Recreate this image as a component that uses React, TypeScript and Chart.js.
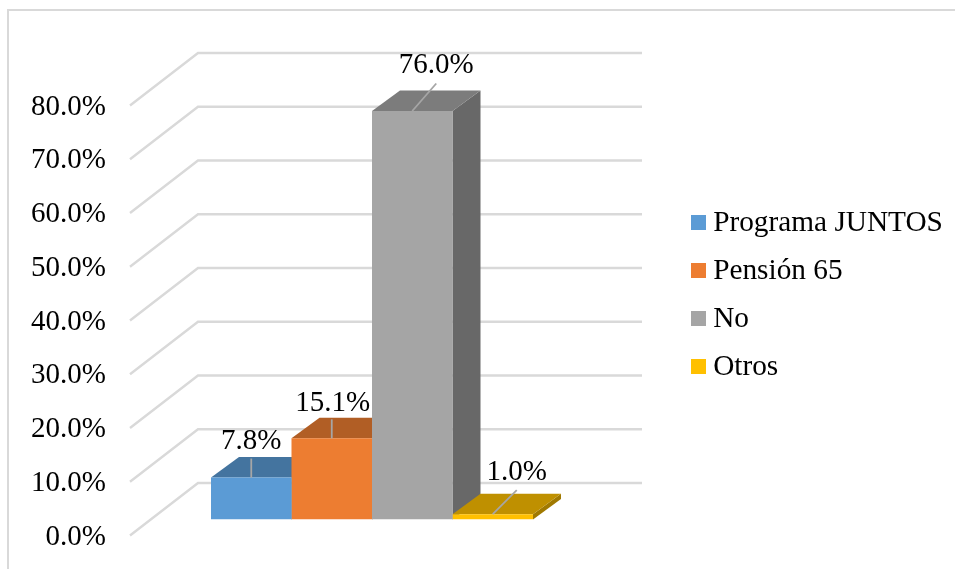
import React, { useEffect, useRef } from "react";
import { Chart, registerables } from "chart.js";

Chart.register(...registerables);

const categories = [""];
const seriesNames = ["Programa JUNTOS", "Pensión 65", "No", "Otros"];
const seriesValues = [7.8, 15.1, 76.0, 1.0];
const frontColors = ["#5b9bd5", "#ed7d31", "#a5a5a5", "#ffc000"];
const topColors = ["#44749f", "#b15e25", "#7c7c7c", "#bf9000"];
const sideColors = ["#396186", "#934e1f", "#686868", "#a07900"];
const labelOffsets = [[0, -36.5], [1, -35.3], [24, -45.8], [24, -42]];
const leaderEnds = [[0, -19], [0, -19], [24, -27.5], [24, -24]];

const FONT = "'Liberation Serif'";
const GRID = "#d9d9d9";
const FLOOR_X = 68;
const FLOOR_Y = -52.5;
const WALL_RIGHT = 642;
const BAR_SHIFT_X = 20;
const BAR_SHIFT_Y = -16;
const DEPTH_X = 28;
const DEPTH_Y = -20.5;

function swatch(color: string) {
  const c = document.createElement("canvas");
  c.width = 15;
  c.height = 15;
  const g = c.getContext("2d")!;
  g.fillStyle = color;
  g.fillRect(0, 0, 15, 15);
  return c;
}

function poly(ctx: CanvasRenderingContext2D, color: string, pts: number[][]) {
  ctx.fillStyle = color;
  ctx.beginPath();
  pts.forEach((p, i) => (i ? ctx.lineTo(p[0], p[1]) : ctx.moveTo(p[0], p[1])));
  ctx.closePath();
  ctx.fill();
}

const scene3d = {
  id: "scene3d",
  afterLayout(chart: any) {
    const l = chart.legend;
    l.left = 679.8;
    l.right = 955;
    l.top = 189.5;
    l.bottom = 569;
    l.width = l.right - l.left;
    l.height = l.bottom - l.top;
  },
  beforeDraw(chart: any) {
    const ctx = chart.ctx;
    ctx.save();
    ctx.strokeStyle = GRID;
    ctx.lineWidth = 2;
    ctx.beginPath();
    ctx.moveTo(8, 569);
    ctx.lineTo(8, 10);
    ctx.lineTo(955, 10);
    ctx.stroke();
    ctx.restore();
  },
  beforeDatasetsDraw(chart: any) {
    const ctx = chart.ctx;
    const yScale = chart.scales.y;
    ctx.save();
    ctx.strokeStyle = GRID;
    ctx.lineWidth = 2.4;
    yScale.ticks.forEach((t: any) => {
      const y = yScale.getPixelForValue(t.value);
      const x0 = chart.chartArea.left;
      ctx.beginPath();
      ctx.moveTo(x0, y);
      ctx.lineTo(x0 + FLOOR_X, y + FLOOR_Y);
      ctx.lineTo(WALL_RIGHT, y + FLOOR_Y);
      ctx.stroke();
    });
    seriesValues.forEach((_, i) => {
      const el = chart.getDatasetMeta(i).data[0];
      const left = el.x - el.width / 2 + BAR_SHIFT_X;
      const right = el.x + el.width / 2 + BAR_SHIFT_X;
      const top = el.y + BAR_SHIFT_Y;
      const base = el.base + BAR_SHIFT_Y;
      poly(ctx, sideColors[i], [
        [right, top],
        [right + DEPTH_X, top + DEPTH_Y],
        [right + DEPTH_X, base + DEPTH_Y],
        [right, base],
      ]);
      poly(ctx, topColors[i], [
        [left, top],
        [left + DEPTH_X, top + DEPTH_Y],
        [right + DEPTH_X, top + DEPTH_Y],
        [right, top],
      ]);
    });
    ctx.restore();
  },
  beforeDatasetDraw(chart: any) {
    chart.ctx.save();
    chart.ctx.translate(BAR_SHIFT_X, BAR_SHIFT_Y);
  },
  afterDatasetDraw(chart: any) {
    chart.ctx.restore();
  },
  afterDatasetsDraw(chart: any) {
    const ctx = chart.ctx;
    ctx.save();
    seriesValues.forEach((v, i) => {
      const el = chart.getDatasetMeta(i).data[0];
      const cx = el.x + BAR_SHIFT_X;
      const top = el.y + BAR_SHIFT_Y;
      ctx.strokeStyle = "#a6a6a6";
      ctx.lineWidth = 1.8;
      ctx.beginPath();
      ctx.moveTo(cx, top);
      ctx.lineTo(cx + leaderEnds[i][0], top + leaderEnds[i][1]);
      ctx.stroke();
      ctx.fillStyle = "#000";
      ctx.font = `29px ${FONT}`;
      ctx.textAlign = "center";
      ctx.textBaseline = "middle";
      ctx.fillText(v.toFixed(1) + "%", cx + labelOffsets[i][0], top + labelOffsets[i][1]);
    });
    ctx.restore();
  },
};

export default function App() {
  const ref = useRef<HTMLCanvasElement>(null);
  useEffect(() => {
    const chart = new Chart(ref.current!, {
      type: "bar",
      plugins: [scene3d],
      data: {
        labels: categories,
        datasets: seriesNames.map((label, i) => ({
          label,
          data: [seriesValues[i]],
          backgroundColor: frontColors[i],
          borderWidth: 0,
          barPercentage: 1,
          categoryPercentage: 0.7252,
        })),
      },
      options: {
        animation: false,
        responsive: false,
        layout: { autoPadding: false, padding: { top: 105.5, bottom: 33.5, left: 0, right: 381 } },
        scales: {
          x: { display: false },
          y: {
            min: 0,
            max: 80,
            grid: { display: false },
            border: { display: false },
            afterFit: (s: any) => {
              s.width = 130;
            },
            ticks: {
              stepSize: 10,
              padding: 16,
              labelOffset: 1.5,
              color: "#000",
              font: { family: FONT, size: 29 },
              callback: (v: any) => Number(v).toFixed(1) + "%",
            },
          },
        },
        plugins: {
          tooltip: { enabled: false },
          legend: {
            position: "chartArea",
            align: "start",
            labels: {
              usePointStyle: true,
              boxWidth: 0.01,
              boxHeight: 15,
              padding: 18.7,
              color: "#000",
              font: { family: FONT, size: 29.3 },
              generateLabels: () =>
                seriesNames.map((text, i) => ({
                  text,
                  fillStyle: frontColors[i],
                  strokeStyle: frontColors[i],
                  lineWidth: 0,
                  pointStyle: swatch(frontColors[i]),
                  datasetIndex: i,
                  fontColor: "#000",
                })),
            },
          },
        },
      },
    } as any);
    return () => chart.destroy();
  }, []);
  return (
    <div style={{ position: "absolute", left: 0, top: 0, width: 955, height: 569 }}>
      <canvas ref={ref} width={955} height={569} style={{ display: "block" }} />
    </div>
  );
}
